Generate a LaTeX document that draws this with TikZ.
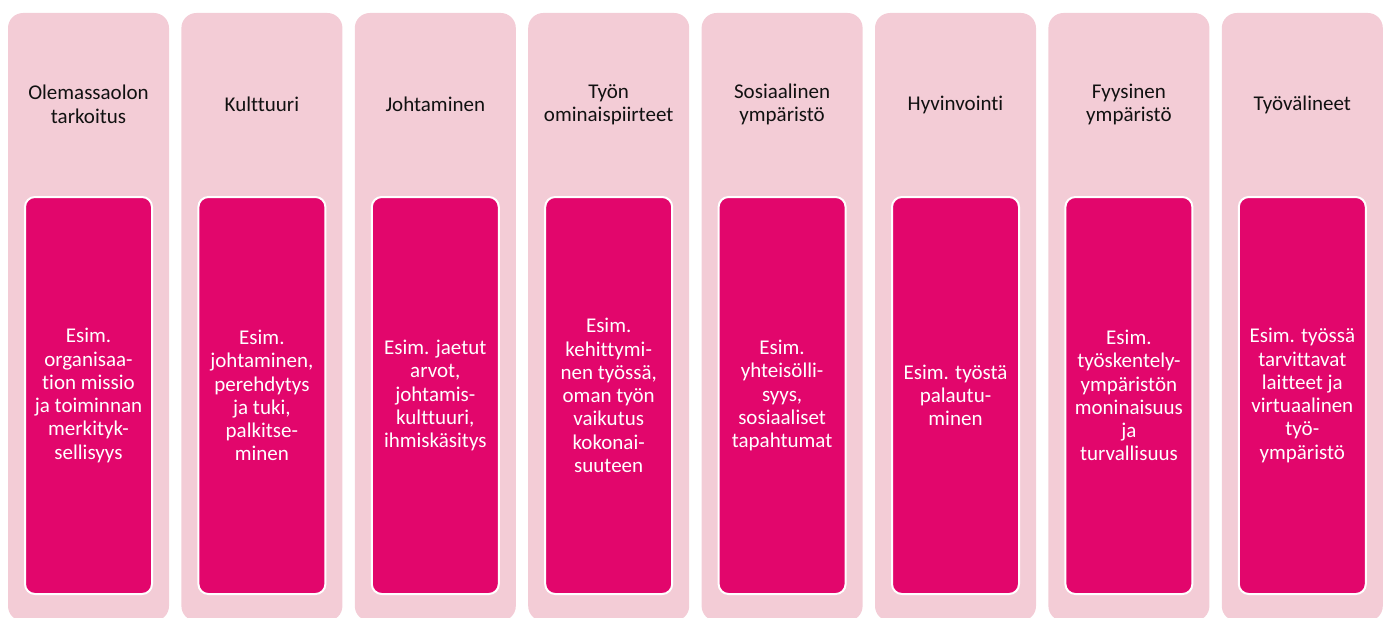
\documentclass[tikz,border=0pt]{standalone}
\usepackage{fontspec}
\setmainfont{Carlito}[Ligatures=NoCommon]
\definecolor{panelpink}{HTML}{F3CCD6}
\definecolor{magenta}{HTML}{E2066C}
\definecolor{titleink}{HTML}{111111}
\begin{document}
\begin{tikzpicture}[x=1pt,y=-1pt,
  panel/.style={fill=panelpink, draw=none, rounded corners=15pt,
    minimum width=161pt, minimum height=608pt, inner sep=0pt},
  heading/.style={text=titleink, align=center, font=\fontsize{21}{23.5}\selectfont, inner sep=0pt},
  example/.style={fill=magenta, draw=white, line width=2pt, rounded corners=10pt,
    minimum width=127pt, minimum height=397pt, inner sep=0pt,
    text=white, align=center, font=\fontsize{21}{23.3}\selectfont}]
\useasboundingbox (0,0) rectangle (1389,618);
\clip (0,0) rectangle (1389,618);
\foreach \i/\head/\body in {
  1/{Olemassaolon\\tarkoitus}/{Esim.\\organisaa-\\tion missio\\ja toiminnan\\merkityk-\\sellisyys},
  2/{Kulttuuri}/{Esim.\\johtaminen,\\perehdytys\\ja tuki,\\palkitse-\\minen},
  3/{Johtaminen}/{Esim. jaetut\\arvot,\\johtamis-\\kulttuuri,\\ihmiskäsitys},
  4/{Työn\\ominaispiirteet}/{Esim.\\kehittymi-\\nen työssä,\\oman työn\\vaikutus\\kokonai-\\suuteen},
  5/{Sosiaalinen\\ympäristö}/{Esim.\\yhteisölli-\\syys,\\sosiaaliset\\tapahtumat},
  6/{Hyvinvointi}/{Esim. työstä\\palautu-\\minen},
  7/{Fyysinen\\ympäristö}/{Esim.\\työskentely-\\ympäristön\\moninaisuus\\ja\\turvallisuus},
  8/{Työvälineet}/{Esim. työssä\\tarvittavat\\laitteet ja\\virtuaalinen\\työ-\\ympäristö}}
{
  \pgfmathsetmacro{\cx}{88.5+(\i-1)*173.4}
  \node[panel] (panel\i) at (\cx,317) {};
  \node[heading] (head\i) at (\cx,104.5) {\head};
  \node[example] (ex\i) at (\cx,395.5) {\body};
}
\end{tikzpicture}
\end{document}
